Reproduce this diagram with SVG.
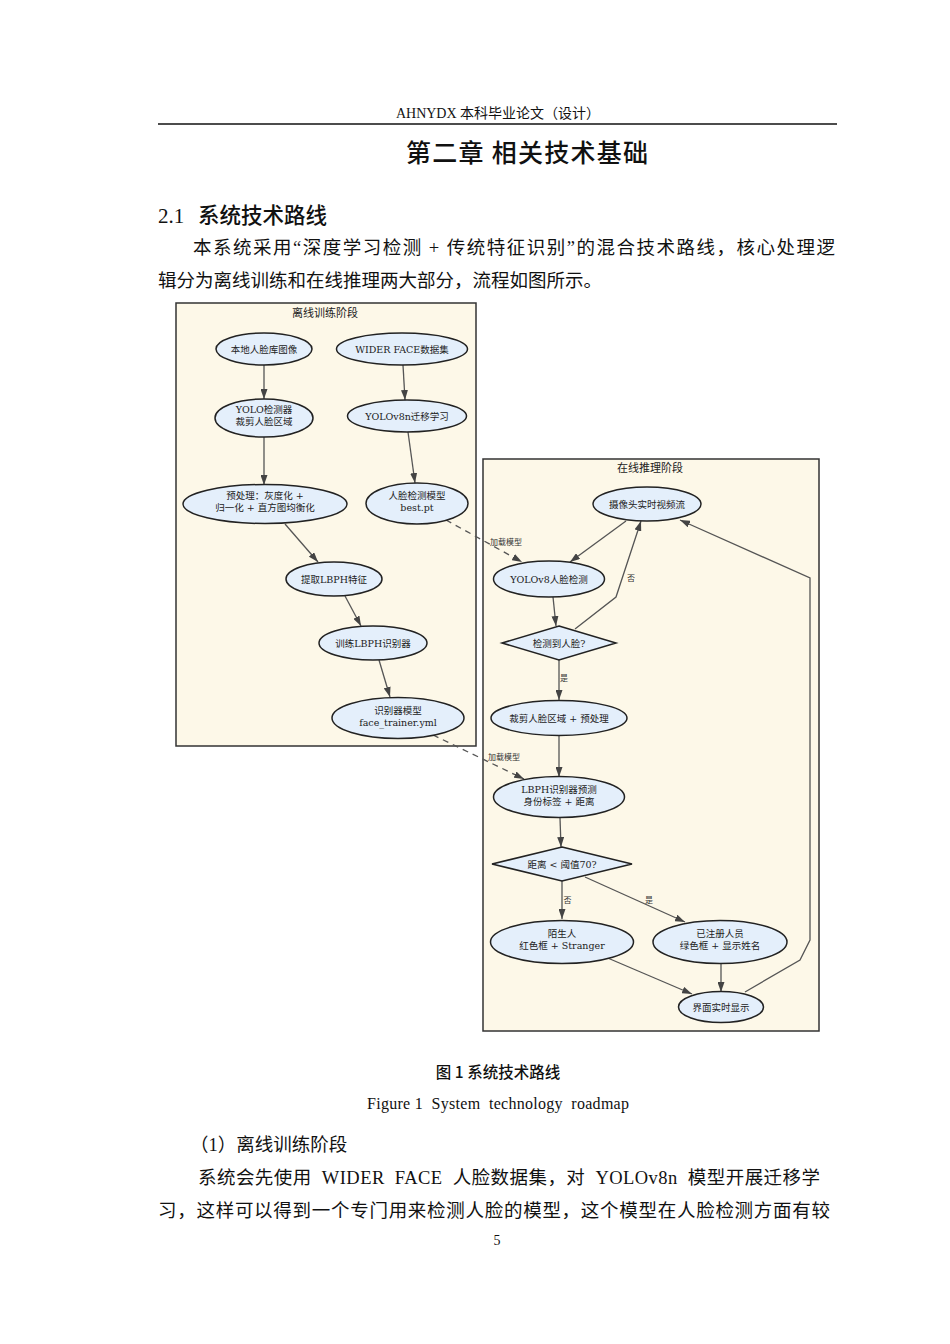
<svg xmlns="http://www.w3.org/2000/svg" width="950" height="1344" viewBox="0 0 950 1344">
<defs>
<style>
.page{font-family:"Liberation Serif","Noto Sans CJK SC",serif;fill:#111}
.hei{font-family:"Noto Sans CJK SC","Noto Sans",sans-serif;fill:#111}
.cl{fill:#fdf8e8;stroke:#333;stroke-width:1.5}
.cll{font-family:"DejaVu Sans","Noto Sans CJK SC",sans-serif;font-size:11px;fill:#222;text-anchor:middle}
.nd{fill:#e4effb;stroke:#222;stroke-width:1.5}
.nt{font-family:"DejaVu Serif","Noto Sans CJK SC",serif;font-size:9.5px;fill:#222;text-anchor:middle}
.e{fill:none;stroke:#555;stroke-width:1.3;marker-end:url(#ah)}
.ed{fill:none;stroke:#555;stroke-width:1.3;stroke-dasharray:6,5;marker-end:url(#ah)}
.el{font-family:"DejaVu Sans","Noto Sans CJK SC",sans-serif;font-size:8px;fill:#333}
</style>
<marker id="ah" viewBox="0 0 10 7" refX="10" refY="3.5" markerWidth="10" markerHeight="7" markerUnits="userSpaceOnUse" orient="auto">
<path d="M0,0 L10,3.5 L0,7 z" fill="#444"/>
</marker>
</defs>
<rect width="950" height="1344" fill="#ffffff"/>

<!-- page text -->
<text class="page" x="498" y="118" font-size="14" text-anchor="middle">AHNYDX 本科毕业论文（设计）</text>
<line x1="158" y1="124" x2="837" y2="124" stroke="#111" stroke-width="1.6"/>
<text class="hei" x="527" y="162" font-size="25" font-weight="500" text-anchor="middle" textLength="242" lengthAdjust="spacing">第二章 相关技术基础</text>
<text class="page" x="158" y="223" font-size="21">2.1</text>
<text class="hei" x="198" y="223" font-size="21.5" font-weight="500">系统技术路线</text>
<text class="page" x="193" y="254" font-size="18.5" textLength="642" lengthAdjust="spacing">本系统采用“深度学习检测 + 传统特征识别”的混合技术路线，核心处理逻</text>
<text class="page" x="158" y="287" font-size="18.5">辑分为离线训练和在线推理两大部分，流程如图所示。</text>

<!-- clusters -->
<g id="cluster_offline">
<rect class="cl" x="176" y="303" width="300" height="443"/>
<text class="cll" x="325" y="317">离线训练阶段</text>
</g>
<g id="cluster_online">
<rect class="cl" x="483" y="459" width="336" height="572"/>
<text class="cll" x="650" y="472">在线推理阶段</text>
</g>

<!-- connectors -->
<g id="connectors">
<line class="e" x1="264" y1="365" x2="264" y2="399"/>
<line class="e" x1="403" y1="365" x2="405" y2="400"/>
<line class="e" x1="264" y1="437" x2="264" y2="485"/>
<line class="e" x1="408" y1="432" x2="415" y2="483"/>
<line class="e" x1="285" y1="524" x2="318" y2="562"/>
<line class="e" x1="345" y1="596" x2="361" y2="626"/>
<line class="e" x1="379" y1="660" x2="390" y2="697"/>
<line class="ed" x1="446" y1="520" x2="522" y2="562"/>
<text class="el" x="490" y="545">加载模型</text>
<line class="ed" x1="433" y1="735" x2="524" y2="779"/>
<text class="el" x="488" y="760">加载模型</text>
<line class="e" x1="626" y1="521" x2="570" y2="562"/>
<line class="e" x1="553" y1="597" x2="556" y2="626"/>
<polyline class="e" points="575,629 616,597 641,521"/>
<text class="el" x="627" y="581">否</text>
<line class="e" x1="559" y1="660" x2="559" y2="700"/>
<text class="el" x="560" y="681">是</text>
<line class="e" x1="559" y1="736" x2="559" y2="777"/>
<line class="e" x1="560" y1="818" x2="561" y2="847"/>
<line class="e" x1="562" y1="881" x2="562" y2="919"/>
<text class="el" x="563.5" y="903">否</text>
<line class="e" x1="585" y1="877" x2="685" y2="922"/>
<text class="el" x="645" y="903">是</text>
<line class="e" x1="603" y1="956" x2="692" y2="994"/>
<line class="e" x1="721" y1="963" x2="721" y2="992"/>
<polyline class="e" points="745,992 800,960 810,940 810,578 680,520"/>
</g>

<!-- offline nodes -->
<g id="n_local"><ellipse class="nd" cx="264" cy="349" rx="48" ry="16"/><text class="nt" x="264" y="352.5">本地人脸库图像</text></g>
<g id="n_wider"><ellipse class="nd" cx="402" cy="349" rx="65.5" ry="16"/><text class="nt" x="402" y="352.5">WIDER FACE数据集</text></g>
<g id="n_yolodet"><ellipse class="nd" cx="264" cy="418" rx="49" ry="19"/><text class="nt" x="264" y="413">YOLO检测器</text><text class="nt" x="264" y="425">裁剪人脸区域</text></g>
<g id="n_yolov8n"><ellipse class="nd" cx="407" cy="416" rx="59.5" ry="16"/><text class="nt" x="407" y="419.5">YOLOv8n迁移学习</text></g>
<g id="n_pre"><ellipse class="nd" cx="265" cy="504" rx="82" ry="19.5"/><text class="nt" x="265" y="499">预处理：灰度化 +</text><text class="nt" x="265" y="511">归一化 + 直方图均衡化</text></g>
<g id="n_best"><ellipse class="nd" cx="417" cy="503.5" rx="51" ry="20.5"/><text class="nt" x="417" y="499">人脸检测模型</text><text class="nt" x="417" y="511">best.pt</text></g>
<g id="n_lbphfeat"><ellipse class="nd" cx="334" cy="579" rx="48" ry="17"/><text class="nt" x="334" y="582.5">提取LBPH特征</text></g>
<g id="n_train"><ellipse class="nd" cx="373" cy="643" rx="54" ry="17"/><text class="nt" x="373" y="646.5">训练LBPH识别器</text></g>
<g id="n_trainer"><ellipse class="nd" cx="398" cy="718" rx="66" ry="20.5"/><text class="nt" x="398" y="713.5">识别器模型</text><text class="nt" x="398" y="725.5">face_trainer.yml</text></g>

<!-- online nodes -->
<g id="n_cam"><ellipse class="nd" cx="647" cy="504" rx="54" ry="17"/><text class="nt" x="647" y="507.5">摄像头实时视频流</text></g>
<g id="n_yolov8"><ellipse class="nd" cx="549" cy="579" rx="55.5" ry="18"/><text class="nt" x="549" y="582.5">YOLOv8人脸检测</text></g>
<g id="n_detect"><polygon class="nd" points="559,626 616,643 559,660 502,643"/><text class="nt" x="559" y="646.5">检测到人脸?</text></g>
<g id="n_crop"><ellipse class="nd" cx="559" cy="718" rx="68" ry="17.5"/><text class="nt" x="559" y="721.5">裁剪人脸区域 + 预处理</text></g>
<g id="n_lbphpred"><ellipse class="nd" cx="559" cy="797" rx="65.5" ry="20.5"/><text class="nt" x="559" y="792.5">LBPH识别器预测</text><text class="nt" x="559" y="804.5">身份标签 + 距离</text></g>
<g id="n_dist"><polygon class="nd" points="562,847 632,864 562,881 492,864"/><text class="nt" x="562" y="867.5">距离 &lt; 阈值70?</text></g>
<g id="n_stranger"><ellipse class="nd" cx="562" cy="942" rx="71.5" ry="21.5"/><text class="nt" x="562" y="937">陌生人</text><text class="nt" x="562" y="949">红色框 + Stranger</text></g>
<g id="n_known"><ellipse class="nd" cx="720" cy="942" rx="67" ry="21.5"/><text class="nt" x="720" y="937">已注册人员</text><text class="nt" x="720" y="949">绿色框 + 显示姓名</text></g>
<g id="n_ui"><ellipse class="nd" cx="721" cy="1007" rx="42.5" ry="15.5"/><text class="nt" x="721" y="1010.5">界面实时显示</text></g>

<!-- captions and body -->
<text class="hei" x="498" y="1078" font-size="15.5" font-weight="500" text-anchor="middle">图 1 系统技术路线</text>
<text class="page" x="367" y="1109" font-size="16" textLength="262" lengthAdjust="spacing" xml:space="preserve">Figure 1  System  technology  roadmap</text>
<text class="page" x="190" y="1151" font-size="18.5">（1）离线训练阶段</text>
<text class="page" x="198" y="1184" font-size="18.5" textLength="622" lengthAdjust="spacing" xml:space="preserve">系统会先使用  WIDER  FACE  人脸数据集，对  YOLOv8n  模型开展迁移学</text>
<text class="page" x="158" y="1217" font-size="18.5" textLength="672" lengthAdjust="spacing">习，这样可以得到一个专门用来检测人脸的模型，这个模型在人脸检测方面有较</text>
<text class="page" x="497" y="1245" font-size="14" text-anchor="middle">5</text>
</svg>
